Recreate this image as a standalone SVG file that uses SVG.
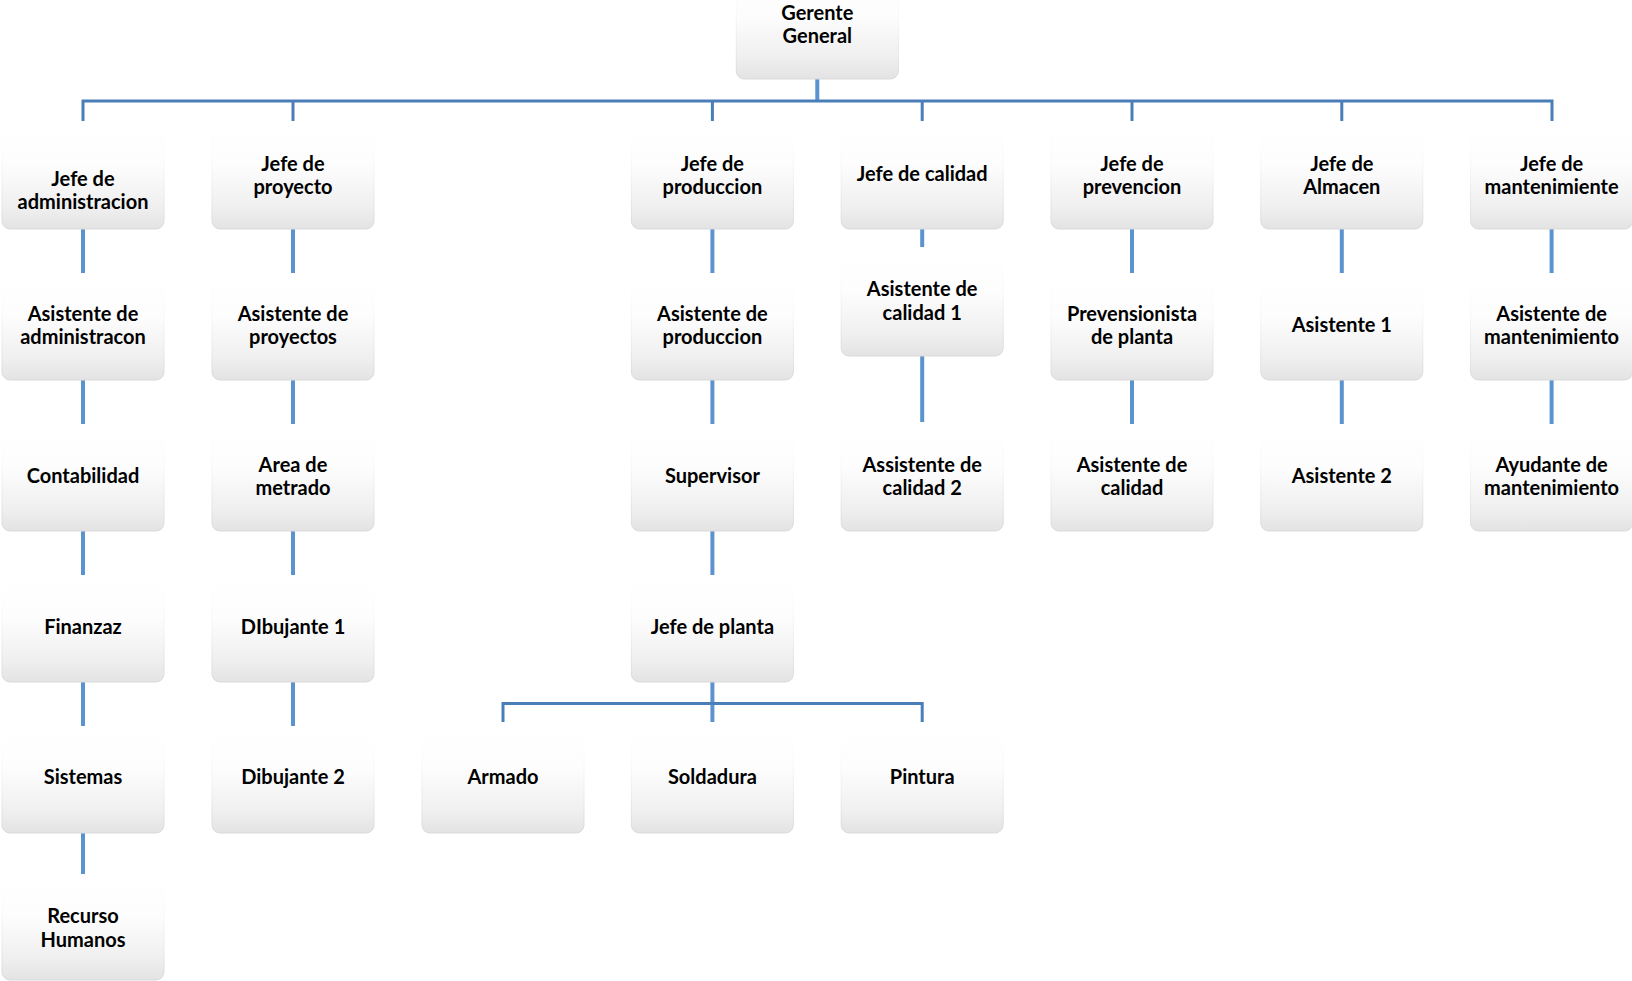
<svg xmlns="http://www.w3.org/2000/svg" width="1632" height="981" viewBox="0 0 1632 981">
<defs>
<linearGradient id="g" x1="0" y1="0" x2="0" y2="1">
<stop offset="0" stop-color="#ffffff"/>
<stop offset="0.4" stop-color="#fdfdfd"/>
<stop offset="0.8" stop-color="#efefef"/>
<stop offset="1" stop-color="#e3e3e3"/>
</linearGradient>
<linearGradient id="s" x1="0" y1="0" x2="0" y2="1">
<stop offset="0" stop-color="#ffffff" stop-opacity="0"/>
<stop offset="0.5" stop-color="#f2f2f2"/>
<stop offset="1" stop-color="#d9d9d9"/>
</linearGradient>
</defs>
<style>
.box{fill:url(#g);stroke:url(#s);stroke-width:1}
.t{font-family:Lato,"Liberation Sans",sans-serif;font-weight:bold;font-size:20px;fill:#000;text-anchor:middle}
.bus{stroke:#4a7eb8;stroke-width:3;fill:none}
.v{stroke:#5b93cf;stroke-width:4;fill:none}
</style>
<rect width="1632" height="981" fill="#fff"/>
<g id="connectors">
<path class="v" d="M817.3 78V101"/>
<path class="bus" d="M83 121V101H1552V121M293 101V121M712.4 101V121M922.2 101V121M1132 101V121M1341.8 101V121"/>
<path class="v" d="M83 229V273M83 380V424M83 531V575M83 682V726M83 833V874"/>
<path class="v" d="M293 229V273M293 380V424M293 531V575M293 682V726"/>
<path class="v" d="M712.4 229V273M712.4 380V424M712.4 531V575M712.4 682V722"/>
<path class="bus" d="M503 722V703.6H922.2V722"/>
<path class="v" d="M922.2 229V247M922.2 356V422"/>
<path class="v" d="M1132 229V273M1132 380V424"/>
<path class="v" d="M1341.8 229V273M1341.8 380V424"/>
<path class="v" d="M1551.6 229V273M1551.6 380V424"/>
</g>
<g id="n-gerente"><rect class="box" x="736.3" y="-26" width="162" height="105" rx="8"/><text class="t" x="817.3" y="20">Gerente</text><text class="t" x="817.3" y="43">General</text></g>

<g id="n-jadm"><rect class="box" x="2" y="123" width="162" height="106" rx="8"/><text class="t" x="83" y="186">Jefe de</text><text class="t" x="83" y="209">administracion</text></g>
<g id="n-asadm"><rect class="box" x="2" y="274" width="162" height="106" rx="8"/><text class="t" x="83" y="321">Asistente de</text><text class="t" x="83" y="344">administracon</text></g>
<g id="n-cont"><rect class="box" x="2" y="425" width="162" height="106" rx="8"/><text class="t" x="83" y="483">Contabilidad</text></g>
<g id="n-fin"><rect class="box" x="2" y="576" width="162" height="106" rx="8"/><text class="t" x="83" y="634">Finanzaz</text></g>
<g id="n-sis"><rect class="box" x="2" y="727" width="162" height="106" rx="8"/><text class="t" x="83" y="784">Sistemas</text></g>
<g id="n-rh"><rect class="box" x="2" y="874" width="162" height="106" rx="8"/><text class="t" x="83" y="923">Recurso</text><text class="t" x="83" y="947">Humanos</text></g>

<g id="n-jproy"><rect class="box" x="212" y="123" width="162" height="106" rx="8"/><text class="t" x="293" y="171">Jefe de</text><text class="t" x="293" y="194">proyecto</text></g>
<g id="n-asproy"><rect class="box" x="212" y="274" width="162" height="106" rx="8"/><text class="t" x="293" y="321">Asistente de</text><text class="t" x="293" y="344">proyectos</text></g>
<g id="n-metr"><rect class="box" x="212" y="425" width="162" height="106" rx="8"/><text class="t" x="293" y="472">Area de</text><text class="t" x="293" y="495">metrado</text></g>
<g id="n-dib1"><rect class="box" x="212" y="576" width="162" height="106" rx="8"/><text class="t" x="293" y="634">DIbujante 1</text></g>
<g id="n-dib2"><rect class="box" x="212" y="727" width="162" height="106" rx="8"/><text class="t" x="293" y="784">Dibujante 2</text></g>

<g id="n-armado"><rect class="box" x="422" y="727" width="162" height="106" rx="8"/><text class="t" x="503" y="784">Armado</text></g>

<g id="n-jprod"><rect class="box" x="631.4" y="123" width="162" height="106" rx="8"/><text class="t" x="712.4" y="171">Jefe de</text><text class="t" x="712.4" y="194">produccion</text></g>
<g id="n-asprod"><rect class="box" x="631.4" y="274" width="162" height="106" rx="8"/><text class="t" x="712.4" y="321">Asistente de</text><text class="t" x="712.4" y="344">produccion</text></g>
<g id="n-sup"><rect class="box" x="631.4" y="425" width="162" height="106" rx="8"/><text class="t" x="712.4" y="483">Supervisor</text></g>
<g id="n-jplanta"><rect class="box" x="631.4" y="576" width="162" height="106" rx="8"/><text class="t" x="712.4" y="634">Jefe de planta</text></g>
<g id="n-sold"><rect class="box" x="631.4" y="727" width="162" height="106" rx="8"/><text class="t" x="712.4" y="784">Soldadura</text></g>

<g id="n-jcal"><rect class="box" x="841.2" y="123" width="162" height="106" rx="8"/><text class="t" x="922.2" y="181">Jefe de calidad</text></g>
<g id="n-ascal1"><rect class="box" x="841.2" y="250" width="162" height="106" rx="8"/><text class="t" x="922.2" y="296">Asistente de</text><text class="t" x="922.2" y="320">calidad 1</text></g>
<g id="n-ascal2"><rect class="box" x="841.2" y="425" width="162" height="106" rx="8"/><text class="t" x="922.2" y="472">Assistente de</text><text class="t" x="922.2" y="495">calidad 2</text></g>
<g id="n-pint"><rect class="box" x="841.2" y="727" width="162" height="106" rx="8"/><text class="t" x="922.2" y="784">Pintura</text></g>

<g id="n-jprev"><rect class="box" x="1051" y="123" width="162" height="106" rx="8"/><text class="t" x="1132" y="171">Jefe de</text><text class="t" x="1132" y="194">prevencion</text></g>
<g id="n-prevpl"><rect class="box" x="1051" y="274" width="162" height="106" rx="8"/><text class="t" x="1132" y="321">Prevensionista</text><text class="t" x="1132" y="344">de planta</text></g>
<g id="n-ascalp"><rect class="box" x="1051" y="425" width="162" height="106" rx="8"/><text class="t" x="1132" y="472">Asistente de</text><text class="t" x="1132" y="495">calidad</text></g>

<g id="n-jalm"><rect class="box" x="1260.8" y="123" width="162" height="106" rx="8"/><text class="t" x="1341.8" y="171">Jefe de</text><text class="t" x="1341.8" y="194">Almacen</text></g>
<g id="n-as1"><rect class="box" x="1260.8" y="274" width="162" height="106" rx="8"/><text class="t" x="1341.8" y="332">Asistente 1</text></g>
<g id="n-as2"><rect class="box" x="1260.8" y="425" width="162" height="106" rx="8"/><text class="t" x="1341.8" y="483">Asistente 2</text></g>

<g id="n-jmant"><rect class="box" x="1470.6" y="123" width="162" height="106" rx="8"/><text class="t" x="1551.6" y="171">Jefe de</text><text class="t" x="1551.6" y="194">mantenimiente</text></g>
<g id="n-asmant"><rect class="box" x="1470.6" y="274" width="162" height="106" rx="8"/><text class="t" x="1551.6" y="321">Asistente de</text><text class="t" x="1551.6" y="344">mantenimiento</text></g>
<g id="n-ayud"><rect class="box" x="1470.6" y="425" width="162" height="106" rx="8"/><text class="t" x="1551.6" y="472">Ayudante de</text><text class="t" x="1551.6" y="495">mantenimiento</text></g>
</svg>
